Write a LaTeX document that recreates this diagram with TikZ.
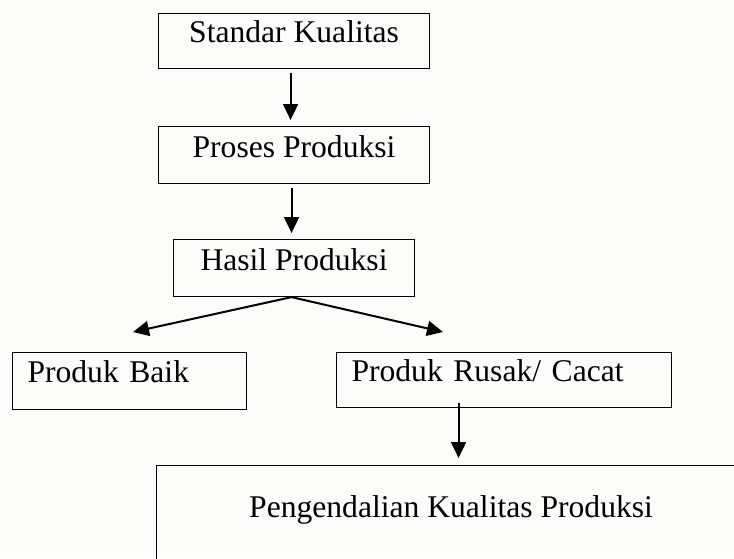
\documentclass[tikz,border=0pt]{standalone}
\usepackage{fontspec}
\setmainfont{Liberation Serif}
\usetikzlibrary{arrows.meta}
\definecolor{paper}{RGB}{252,253,248}

\begin{document}
\begin{tikzpicture}[x=1pt,y=-1pt,
    box/.style={draw,line width=1.1pt,inner xsep=0pt,inner ysep=0pt,
      anchor=north west,font=\fontsize{31.6}{38}\selectfont},
    arr/.style={line width=2pt,-{Triangle[length=16pt,width=15pt]}}]
    % Page
    \useasboundingbox (0,0) rectangle (734,558);
    \fill[paper] (0,0) rectangle (734,558);

    % Main chain
    \node[box,minimum width=271pt,text height=29pt,text depth=26pt]
      (standar) at (158,13) {Standar Kualitas};
    \node[box,minimum width=271pt,text height=31pt,text depth=26pt]
      (proses) at (158,126) {Proses Produksi};
    \node[box,minimum width=241pt,text height=31pt,text depth=26pt]
      (hasil) at (173,239) {Hasil Produksi};

    % Outcomes
    \node[box,text width=204pt,inner xsep=15pt,align=left,
      text height=30pt,text depth=27pt] (baik) at (12,352) {Produk Baik};
    \node[box,text width=305pt,inner xsep=15pt,align=left,
      text height=29pt,text depth=26pt] (rusak) at (336,352) {Produk Rusak/ Cacat};

    % Control
    \node[box,minimum width=589pt,text height=52pt,text depth=60pt]
      (kontrol) at (156,465) {Pengendalian Kualitas Produksi};

    % Free arrow ends
    \coordinate (kiri) at (133,332);
    \coordinate (kanan) at (443,332);

    % Arrows
    \draw[arr,shorten <=4pt,shorten >=6pt]
      ([xshift=-3.5pt]standar.south) -- ([xshift=-3.5pt]proses.north);
    \draw[arr,shorten <=4pt,shorten >=6pt]
      ([xshift=-2.5pt]proses.south) -- ([xshift=-2.5pt]hasil.north);
    \foreach \t in {kiri,kanan} {
      \draw[arr] ([xshift=-2.5pt]hasil.south) -- (\t);
    }
    \draw[arr,shorten >=7pt]
      ([xshift=-45.5pt,yshift=5pt]rusak.south) -- ([xshift=7.5pt]kontrol.north);

  \end{tikzpicture}
\end{document}
